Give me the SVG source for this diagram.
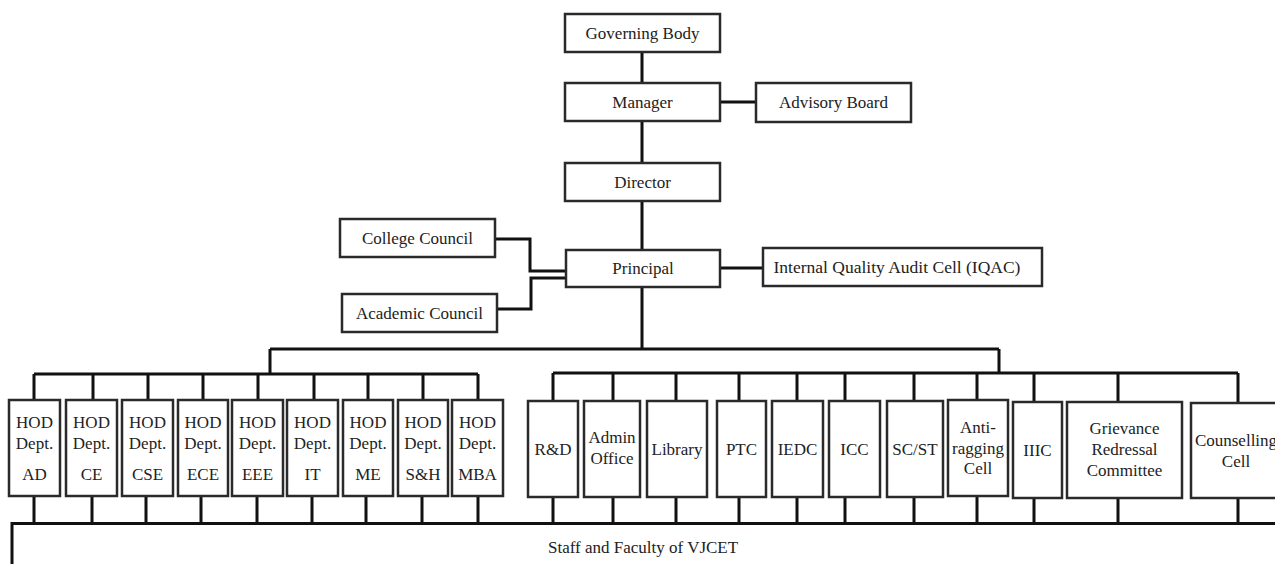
<svg xmlns="http://www.w3.org/2000/svg" width="1275" height="564" viewBox="0 0 1275 564">
<style>
.b{fill:#fff;stroke:#2a2a2a;stroke-width:2.5}
.t{font-family:'Liberation Serif','DejaVu Serif',serif;font-size:17px;fill:#222;text-anchor:middle}
.c{fill:none;stroke:#111;stroke-width:3}
</style>
<rect width="1275" height="564" fill="#fff"/>
<g id="connectors" class="c">
<path d="M642 52V83M720 102H756M642 121V163M642 201V250"/>
<path d="M495 239H530V271H566M497 309H531V278H566M720 268H763"/>
<path d="M642 287V349M270 349H999M270 349V374M999 349V373"/>
<path d="M34 374H478M34 374V400M93 374V400M148 374V400M203 374V400M258 374V400M314 374V400M368 374V400M423 374V400M478 374V400"/>
<path d="M34 496V524M92 496V524M146 496V524M201 496V524M257 496V524M312 496V524M366 496V524M422 496V524M478 496V524"/>
<path d="M553 373H1238M553 373V401M613 373V401M676 373V401M739 373V401M797 373V401M845 373V401M914 373V401M977 373V400M1034 373V402M1118 373V402M1238 373V403"/>
<path d="M553 497V523M613 497V523M676 497V523M739 497V523M797 497V523M845 497V523M914 497V523M977 496V523M1034 498V523M1118 498V523M1238 498V523"/>
<path d="M12 564V523.5H1280"/>
</g>
<g font-family="Liberation Serif, DejaVu Serif, serif">
<g id="governing-body"><rect class="b" x="565" y="14" width="155" height="38"/><text class="t" x="642.5" y="39">Governing Body</text></g>
<g id="manager"><rect class="b" x="565" y="83" width="155" height="38"/><text class="t" x="642.5" y="108">Manager</text></g>
<g id="advisory-board"><rect class="b" x="756" y="83" width="155" height="39"/><text class="t" x="833.5" y="108">Advisory Board</text></g>
<g id="director"><rect class="b" x="565" y="163" width="155" height="38"/><text class="t" x="642.5" y="188">Director</text></g>
<g id="principal"><rect class="b" x="566" y="250" width="154" height="37"/><text class="t" x="643" y="274">Principal</text></g>
<g id="college-council"><rect class="b" x="340" y="219" width="155" height="38"/><text class="t" x="417.5" y="244">College Council</text></g>
<g id="academic-council"><rect class="b" x="342" y="294" width="155" height="38"/><text class="t" x="419.5" y="319">Academic Council</text></g>
<g id="iqac"><rect class="b" x="763" y="248" width="279" height="38"/><text class="t" x="897" y="273" style="font-size:17.5px">Internal Quality Audit Cell (IQAC)</text></g>
<g id="hod-ad"><rect class="b" x="9" y="400" width="51" height="96"/><text class="t" x="34.5" y="428">HOD</text><text class="t" x="34.5" y="449">Dept.</text><text class="t" x="34.5" y="480">AD</text></g>
<g id="hod-ce"><rect class="b" x="66" y="400" width="51" height="96"/><text class="t" x="91.5" y="428">HOD</text><text class="t" x="91.5" y="449">Dept.</text><text class="t" x="91.5" y="480">CE</text></g>
<g id="hod-cse"><rect class="b" x="122" y="400" width="51" height="96"/><text class="t" x="147.5" y="428">HOD</text><text class="t" x="147.5" y="449">Dept.</text><text class="t" x="147.5" y="480">CSE</text></g>
<g id="hod-ece"><rect class="b" x="178" y="400" width="50" height="96"/><text class="t" x="203" y="428">HOD</text><text class="t" x="203" y="449">Dept.</text><text class="t" x="203" y="480">ECE</text></g>
<g id="hod-eee"><rect class="b" x="232" y="400" width="51" height="96"/><text class="t" x="257.5" y="428">HOD</text><text class="t" x="257.5" y="449">Dept.</text><text class="t" x="257.5" y="480">EEE</text></g>
<g id="hod-it"><rect class="b" x="287" y="400" width="51" height="96"/><text class="t" x="312.5" y="428">HOD</text><text class="t" x="312.5" y="449">Dept.</text><text class="t" x="312.5" y="480">IT</text></g>
<g id="hod-me"><rect class="b" x="343" y="400" width="50" height="96"/><text class="t" x="368" y="428">HOD</text><text class="t" x="368" y="449">Dept.</text><text class="t" x="368" y="480">ME</text></g>
<g id="hod-sh"><rect class="b" x="398" y="400" width="50" height="96"/><text class="t" x="423" y="428">HOD</text><text class="t" x="423" y="449">Dept.</text><text class="t" x="423" y="480">S&amp;H</text></g>
<g id="hod-mba"><rect class="b" x="452" y="400" width="51" height="96"/><text class="t" x="477.5" y="428">HOD</text><text class="t" x="477.5" y="449">Dept.</text><text class="t" x="477.5" y="480">MBA</text></g>
<g id="rnd"><rect class="b" x="528" y="401" width="50" height="96"/><text class="t" x="553" y="455">R&amp;D</text></g>
<g id="admin-office"><rect class="b" x="584" y="401" width="56" height="96"/><text class="t" x="612" y="443">Admin</text><text class="t" x="612" y="464">Office</text></g>
<g id="library"><rect class="b" x="647" y="401" width="60" height="96"/><text class="t" x="677" y="455">Library</text></g>
<g id="ptc"><rect class="b" x="717" y="401" width="49" height="96"/><text class="t" x="741.5" y="455">PTC</text></g>
<g id="iedc"><rect class="b" x="772" y="401" width="51" height="96"/><text class="t" x="797.5" y="455">IEDC</text></g>
<g id="icc"><rect class="b" x="829" y="401" width="51" height="96"/><text class="t" x="854.5" y="455">ICC</text></g>
<g id="scst"><rect class="b" x="887" y="401" width="56" height="96"/><text class="t" x="915" y="455">SC/ST</text></g>
<g id="anti-ragging"><rect class="b" x="948" y="400" width="60" height="96"/><text class="t" x="978" y="433">Anti-</text><text class="t" x="978" y="454">ragging</text><text class="t" x="978" y="474">Cell</text></g>
<g id="iiic"><rect class="b" x="1013" y="402" width="49" height="96"/><text class="t" x="1037.5" y="456">IIIC</text></g>
<g id="grievance"><rect class="b" x="1067" y="402" width="115" height="96"/><text class="t" x="1124.5" y="434">Grievance</text><text class="t" x="1124.5" y="455">Redressal</text><text class="t" x="1124.5" y="476">Committee</text></g>
<g id="counselling"><rect class="b" x="1191" y="403" width="100" height="95"/><text class="t" x="1236" y="446">Counselling</text><text class="t" x="1236" y="467">Cell</text></g>
<g id="staff"><text class="t" x="548" y="553" style="text-anchor:start">Staff and Faculty of VJCET</text></g>
</g>
</svg>
